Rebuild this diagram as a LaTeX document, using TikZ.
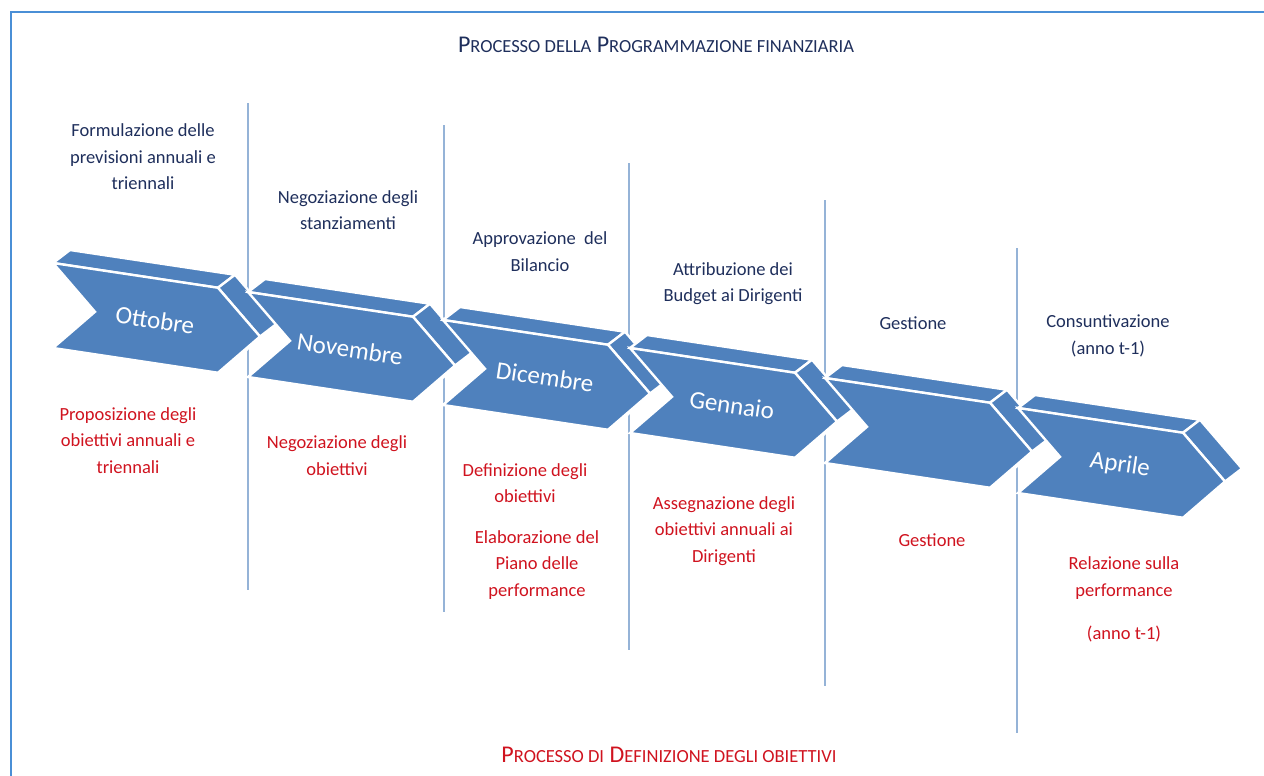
\documentclass[tikz,border=0pt]{standalone}
\usepackage{fontspec}
\setmainfont{Carlito}
\usetikzlibrary{calc}
\definecolor{chev}{HTML}{4F81BD}
\definecolor{vline}{HTML}{95B3D7}
\definecolor{framec}{HTML}{4A8FD6}
\definecolor{navy}{HTML}{1F2F5C}
\definecolor{redt}{HTML}{D0131F}
\tikzset{
  face/.style={fill=chev, draw=white, line width=2.4pt, line join=miter},
  monthlab/.style={text=white, font=\fontsize{25}{28}\selectfont, inner sep=0pt, rotate=-8.5},
  toptext/.style={text=navy, align=center, inner sep=0pt, font=\fontsize{18.5}{26.5}\selectfont},
  bottext/.style={text=redt, align=center, inner sep=0pt, font=\fontsize{18.5}{26.5}\selectfont},
  divider/.style={draw=vline, line width=1.3pt},
  titletext/.style={inner sep=0pt, font=\fontsize{24}{26}\selectfont}
}
\newcommand\fsc[1]{{\fontsize{18.5}{20}\selectfont #1}}
\newcommand\chevron[4]{%
 \begin{scope}[shift={(#1,#2)}]
  \coordinate (#3A) at (0,0);
  \coordinate (#3B) at (165,24.75);
  \coordinate (#3C) at (207,73.55);
  \coordinate (#3D) at (165,109.75);
  \coordinate (#3E) at (0,85);
  \coordinate (#3F) at (42,48.8);
  \coordinate (#3a) at (17,-13);
  \coordinate (#3b) at (182,11.75);
  \coordinate (#3c) at (224,60.55);
  \coordinate (#3d) at (182,96.75);
  \path[face] (#3C) -- (#3D) -- (#3d) -- (#3c) -- cycle;
  \path[face] (#3A) -- (#3B) -- (#3b) -- (#3a) -- cycle;
  \path[face] (#3B) -- (#3C) -- (#3c) -- (#3b) -- cycle;
  \path[face] (#3A) -- (#3B) -- (#3C) -- (#3D) -- (#3E) -- (#3F) -- cycle;
  \node[monthlab] (#3L) at (102,57) {#4};
 \end{scope}}
\begin{document}
\begin{tikzpicture}[x=1pt,y=-1pt]
\useasboundingbox[fill=white] (0,0) rectangle (1264,776);
% frame
\draw[framec, line width=2.2pt] (11,776) -- (11,12) -- (1264,12);
% dividers
\draw[divider] (248,103) -- (248,590);
\draw[divider] (444,125) -- (444,612);
\draw[divider] (629,163) -- (629,650);
\draw[divider] (825,200) -- (825,686);
\draw[divider] (1017,248) -- (1017,733);
% chevrons
\chevron{53}{263}{c1}{Ottobre}
\chevron{248}{292}{c2}{Novembre}
\chevron{443}{320}{c3}{Dicembre}
\chevron{630}{348}{c4}{Gennaio}
\chevron{825}{378}{c5}{}
\chevron{1018}{408}{c6}{Aprile}
% titles
\node[titletext, text=navy] (t1) at (656,45) {P\fsc{ROCESSO DELLA} P\fsc{ROGRAMMAZIONE FINANZIARIA}};
\node[titletext, text=redt] (t2) at (669,755) {P\fsc{ROCESSO DI} D\fsc{EFINIZIONE DEGLI OBIETTIVI}};
% top texts
\node[toptext] (f1) at (143,157) {Formulazione delle\\previsioni annuali e\\triennali};
\node[toptext] (f2) at (348,210) {Negoziazione degli\\stanziamenti};
\node[toptext] (f3) at (540,251.5) {Approvazione\ \ del\\Bilancio};
\node[toptext] (f4) at (733,283.5) {Attribuzione dei\\Budget ai Dirigenti};
\node[toptext] (f5) at (913,323) {Gestione};
\node[toptext] (f6) at (1108,336) {Consuntivazione\\(anno t-1)};
% bottom texts
\node[bottext] (o1) at (128,440.5) {Proposizione degli\\obiettivi annuali e\\triennali};
\node[bottext] (o2) at (337,455.5) {Negoziazione degli\\obiettivi};
\node[bottext] (o3) at (525,483) {Definizione degli\\obiettivi};
\node[bottext] (o3b) at (537,565) {Elaborazione del\\Piano delle\\performance};
\node[bottext] (o4) at (724,531) {Assegnazione degli\\obiettivi annuali ai\\Dirigenti};
\node[bottext] (o5) at (932,540) {Gestione};
\node[bottext] (o6) at (1124,578) {Relazione sulla\\performance};
\node[bottext] (o6b) at (1124,634) {(anno t-1)};
\end{tikzpicture}
\end{document}
